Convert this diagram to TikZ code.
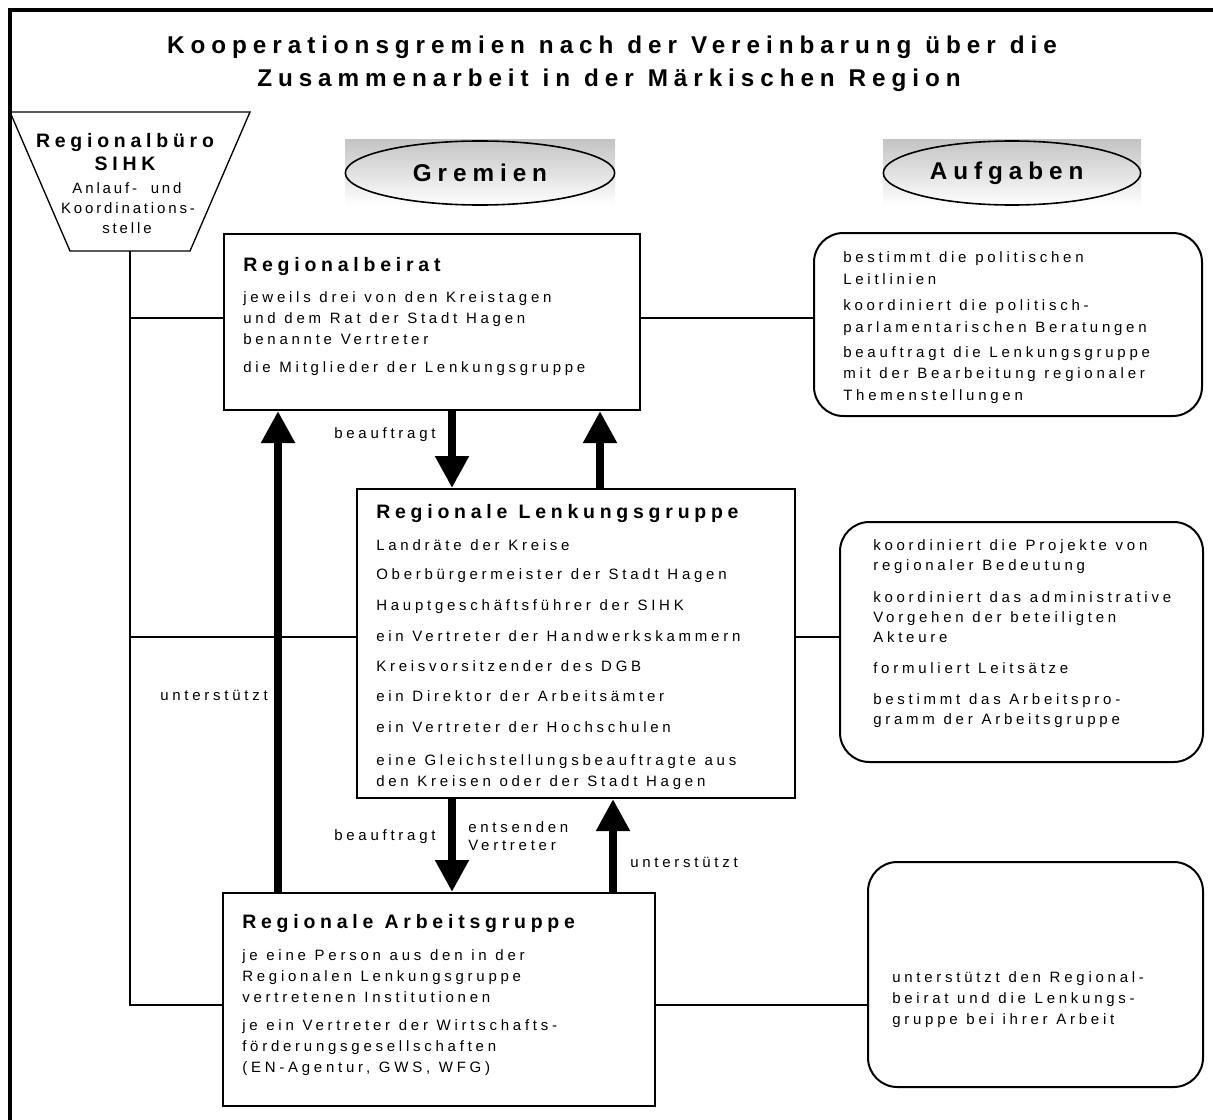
\documentclass[tikz,border=0pt]{standalone}
\usepackage{fontspec}
\setmainfont{Liberation Sans}[LetterSpace=25,WordSpace=1.1]
\newfontfamily\headfam{Liberation Sans}[LetterSpace=24.5,WordSpace=1.1]
\newfontfamily\trapfam{Liberation Sans}[LetterSpace=19]
\usetikzlibrary{arrows.meta,fit,shapes.geometric}
\definecolor{ellgray}{RGB}{196,196,196}
\newcommand{\bodyf}{\fontsize{11.25pt}{15.75pt}\selectfont}
\newcommand{\trapf}{\trapfam\fontsize{11.25pt}{15.75pt}\selectfont}
\newcommand{\headf}{\headfam\fontsize{14.6pt}{17pt}\selectfont\bfseries}
\newcommand{\titlef}{\headfam\fontsize{18.2pt}{21pt}\selectfont\bfseries}
\begin{document}
\begin{tikzpicture}[x=0.75pt,y=-0.75pt,
  box/.style={draw,line width=1.5pt,inner sep=0pt},
  rbox/.style={draw,line width=1.5pt,inner sep=0pt,rounded corners=22pt},
  txt/.style={anchor=base west,inner sep=0pt,font=\bodyf},
  head/.style={anchor=base west,inner sep=0pt,font=\headf},
  lbl/.style={anchor=base west,inner sep=0pt,font=\bodyf},
  conn/.style={line width=1pt},
  bigarrow/.style={line width=6pt,-{Triangle[length=24pt,width=24pt]}},
  ell/.style={draw,ellipse,line width=1.2pt,inner sep=0pt,font=\titlef}]
\useasboundingbox (0,0) rectangle (1213,1120);
% frame
\draw[line width=2.8pt] (10,1122) -- (10,10) -- (1215,10);
% title
\node[anchor=base,inner sep=0pt,font=\titlef] (t1) at (612,54) {Kooperationsgremien nach der Vereinbarung über die};
\node[anchor=base,inner sep=0pt,font=\titlef] (t2) at (609,87) {Zusammenarbeit in der Märkischen Region};
% trapezoid
\draw[line width=1pt] (10,112) -- (250,112) -- (190,251) -- (70,251) -- cycle;
\coordinate (trb) at (130,251);
\node[anchor=base,inner sep=0pt,font=\headf] (tz1) at (125,147) {Regionalbüro};
\node[anchor=base,inner sep=0pt,font=\headf] (tz2) at (125,171) {SIHK};
\node[anchor=base,inner sep=0pt,font=\trapf] (tz3) at (127,194) {Anlauf-\hspace{5pt} und};
\node[anchor=base,inner sep=0pt,font=\trapf] (tz4) at (128,214) {Koordinations-};
\node[anchor=base,inner sep=0pt,font=\trapf] (tz5) at (127,233) {stelle};
% ellipses
\shade[top color=ellgray,bottom color=white] (345,140) rectangle (615,206);
\node[ell,minimum width=202pt,minimum height=48pt] (grem) at (480,173) {Gremien};
\shade[top color=ellgray,bottom color=white] (883,140) rectangle (1141,206);
\node[ell,minimum width=193pt,minimum height=48pt] (aufg) at (1012,173) {\hspace{-8pt}Aufgaben};
% boxes
\node[box,fit={(224,234) (640,410)}] (rb) {};
\node[box,fit={(357,489) (795,798)}] (lg) {};
\node[box,fit={(223,893) (655,1106)}] (ag) {};
\node[rbox,fit={(814,233) (1202,416)}] (a1) {};
\node[rbox,fit={(840,522) (1203,762)}] (a2) {};
\node[rbox,fit={(868,862) (1203,1087)}] (a3) {};
% box texts
\node[head] (rbh) at (243,271) {Regionalbeirat};
\foreach \yy/\s [count=\i] in {297/{jeweils drei von den Kreistagen},318/{und dem Rat der Stadt  Hagen},339/{benannte Vertreter},367/{die Mitglieder der Lenkungsgruppe}}
  \node[txt,name=rbt\i] at (243,\yy+5) {\s};
\node[head] (lgh) at (376,518) {Regionale Lenkungsgruppe};
\foreach \yy/\s [count=\i] in {545/{Landräte der Kreise},574/{Oberbürgermeister der Stadt Hagen},605/{Hauptgeschäftsführer der SIHK},636/{ein Vertreter der Handwerkskammern},666/{Kreisvorsitzender des DGB},696/{ein Direktor der Arbeitsämter},727/{ein Vertreter der Hochschulen},760/{eine Gleichstellungsbeauftragte aus},781/{den Kreisen oder der Stadt Hagen}}
  \node[txt,name=lgt\i] at (376,\yy+5) {\s};
\node[head] (agh) at (242,928) {Regionale Arbeitsgruppe};
\foreach \yy/\s [count=\i] in {955/{je eine Person aus den in der},976/{Regionalen Lenkungsgruppe},997/{vertretenen Institutionen},1025/{je ein Vertreter der Wirtschafts-},1046/{förderungsgesellschaften},1067/{(EN-Agentur, GWS, WFG)}}
  \node[txt,name=agt\i] at (242,\yy+5) {\s};
\foreach \yy/\s [count=\i] in {257/{bestimmt die politischen},279/{Leitlinien},305/{koordiniert die politisch-},327/{parlamentarischen Beratungen},352/{beauftragt die Lenkungsgruppe},373/{mit der Bearbeitung regionaler},395/{Themenstellungen}}
  \node[txt,name=a1t\i] at (843,\yy+5) {\s};
\foreach \yy/\s [count=\i] in {545/{koordiniert die Projekte von},565/{regionaler Bedeutung},597/{koordiniert das administrative},617/{Vorgehen der beteiligten},637/{Akteure},668/{formuliert Leitsätze},699/{bestimmt das Arbeitspro-},719/{gramm der Arbeitsgruppe}}
  \node[txt,name=a2t\i] at (873,\yy+5) {\s};
\foreach \yy/\s [count=\i] in {977/{unterstützt den Regional-},998/{beirat und die Lenkungs-},1019/{gruppe bei ihrer Arbeit}}
  \node[txt,name=a3t\i] at (892,\yy+5) {\s};
% connectors
\coordinate (y1) at (0,318);
\coordinate (y2) at (0,637);
\coordinate (y3) at (0,1005);
\draw[conn] (trb) -- (trb |- y3) -- (ag.west |- y3);
\draw[conn] (trb |- y1) -- (rb.west |- y1);
\draw[conn] (trb |- y2) -- (lg.west |- y2);
\draw[conn] (rb.east |- y1) -- (a1.west |- y1);
\draw[conn] (lg.east |- y2) -- (a2.west |- y2);
\draw[conn] (ag.east |- y3) -- (a3.west |- y3);
% arrows
\coordinate (xa) at (278,0);
\coordinate (xb) at (452,0);
\coordinate (xc) at (600,0);
\coordinate (xd) at (613,0);
\draw[bigarrow] (ag.north -| xa) -- (rb.south -| xa);
\draw[bigarrow] (rb.south -| xb) -- (lg.north -| xb);
\draw[bigarrow] (lg.north -| xc) -- (rb.south -| xc);
\draw[bigarrow] (lg.south -| xb) -- (ag.north -| xb);
\draw[bigarrow] (ag.north -| xd) -- (lg.south -| xd);
% labels
\node[lbl] (l1) at (334,438) {beauftragt};
\node[lbl] (l2) at (334,840) {beauftragt};
\node[lbl] (l3) at (468,832) {entsenden};
\node[lbl] (l4) at (468,850) {Vertreter};
\node[lbl] (l5) at (630,867) {unterstützt};
\node[lbl] (l6) at (160,700) {unterstützt};
\end{tikzpicture}
\end{document}
